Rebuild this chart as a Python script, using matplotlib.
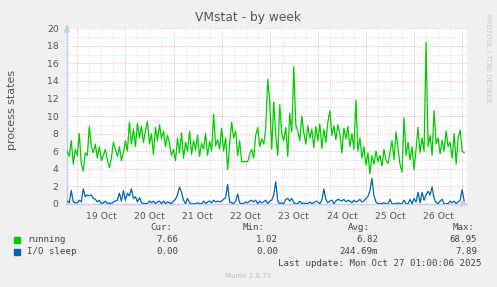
import matplotlib
matplotlib.use("Agg")
import matplotlib.pyplot as plt
import matplotlib.dates as mdates
import pandas as pd
import numpy as np

# ---------------- data ----------------
start_time = "2025-10-18 19:00"
title = "VMstat - by week"
ylabel = "process states"
series_names = ["running", "I/O sleep"]
series_colors = ["#00CC00", "#0066B3"]

running = [
    # Oct 18 19:00-23:00
    6.0, 5.4, 7.2, 4.5, 6.2,
    # Oct 19
    5.5, 8.0, 4.6, 3.7, 5.8, 5.5, 8.8, 6.5, 5.8, 6.8, 5.2, 6.5,
    4.9, 5.5, 6.2, 5.0, 4.1, 5.2, 7.0, 6.2, 5.4, 6.5, 4.9, 5.8,
    # Oct 20
    7.2, 6.0, 9.3, 6.8, 8.5, 6.5, 9.2, 7.5, 8.8, 7.0, 8.3, 9.4,
    6.8, 8.0, 5.6, 8.7, 7.2, 9.0, 7.4, 8.3, 6.5, 7.8, 6.9, 5.5,
    # Oct 21
    6.2, 4.9, 7.5, 5.8, 8.1, 5.2, 7.0, 6.0, 8.3, 5.6, 7.2, 6.1,
    7.8, 5.4, 6.9, 6.2, 8.0, 5.5, 7.1, 6.0, 10.2, 6.6, 7.3, 6.2,
    # Oct 22
    8.6, 6.0, 7.5, 3.9, 6.8, 9.3, 7.5, 8.3, 5.5, 7.2, 4.8, 4.8,
    4.8, 4.8, 5.6, 6.2, 5.2, 7.8, 8.7, 6.5, 7.4, 6.8, 8.5, 14.2,
    # Oct 23
    11.7, 6.2, 11.6, 7.8, 5.5, 11.3, 8.0, 7.2, 8.7, 5.4, 10.3, 8.2,
    15.6, 9.0, 8.3, 7.2, 10.0, 8.1, 6.8, 8.9, 7.5, 8.5, 6.4, 8.8,
    # Oct 24
    7.2, 9.1, 6.3, 8.5, 7.0, 9.3, 10.6, 7.8, 8.9, 7.3, 9.0, 8.0,
    5.8, 8.6, 7.4, 8.8, 6.5, 8.0, 6.2, 11.8, 6.0, 7.5, 5.2, 6.5,
    # Oct 25
    4.4, 5.8, 3.4, 5.5, 4.5, 6.0, 4.8, 5.5, 4.3, 6.2, 5.0, 4.6,
    5.8, 7.2, 5.0, 8.2, 6.3, 4.5, 3.6, 9.8, 5.5, 7.0, 5.0, 6.5,
    # Oct 26
    3.9, 6.2, 8.7, 5.8, 7.5, 6.0, 18.4, 6.5, 7.8, 5.5, 10.6, 6.8,
    7.5, 5.7, 7.2, 6.0, 8.3, 6.5, 7.0, 5.2, 8.0, 4.5, 7.5, 8.4,
    # Oct 27
    6.0, 5.8,
]

io_sleep = [
    # Oct 18 19:00-23:00
    0.3, 0.1, 1.5, 0.2, 0.1,
    # Oct 19
    0.1, 0.4, 0.2, 1.7, 0.8, 1.0, 0.9, 1.0, 0.6, 0.5, 0.2, 0.4,
    0.0, 0.1, 0.3, 0.0, 0.1, 0.0, 0.2, 0.3, 0.4, 1.2, 0.3, 1.5,
    # Oct 20
    0.4, 1.2, 0.9, 1.7, 0.6, 0.8, 0.2, 0.7, 0.1, 0.0, 0.0, 0.0,
    0.3, 0.1, 0.3, 0.0, 0.2, 0.3, 0.0, 0.3, 0.0, 0.2, 0.1, 0.0,
    # Oct 21
    0.3, 0.5, 1.0, 1.9, 1.3, 0.4, 0.0, 0.6, 0.1, 0.0, 0.0, 0.0,
    0.1, 0.0, 0.0, 0.3, 0.0, 0.2, 0.3, 0.1, 0.4, 0.2, 0.3, 0.2,
    # Oct 22
    0.3, 0.5, 0.7, 2.2, 0.2, 0.1, 0.0, 0.3, 1.1, 0.1, 0.0, 0.0,
    0.2, 0.1, 0.3, 0.4, 0.2, 0.4, 0.0, 0.3, 0.1, 0.2, 0.4, 0.0,
    # Oct 23
    0.3, 0.4, 1.0, 2.5, 0.3, 0.0, 0.1, 0.0, 0.5, 0.6, 0.3, 0.6,
    0.1, 0.0, 0.0, 0.3, 0.0, 0.1, 0.0, 0.0, 0.2, 0.0, 0.1, 0.3,
    # Oct 24
    0.2, 0.0, 0.4, 1.7, 0.5, 0.1, 0.3, 0.4, 0.0, 0.3, 0.5, 0.4,
    0.3, 0.5, 0.2, 0.4, 0.3, 0.1, 0.4, 0.2, 0.3, 0.5, 0.2, 0.3,
    # Oct 25
    0.6, 0.8, 1.5, 2.9, 0.9, 0.2, 0.0, 0.0, 0.0, 0.1, 0.0, 0.0,
    0.5, 0.0, 0.0, 0.0, 0.1, 0.0, 0.0, 0.4, 0.0, 0.0, 0.5, 0.0,
    # Oct 26
    0.6, 0.2, 1.3, 0.1, 1.3, 0.4, 1.0, 1.4, 1.0, 1.9, 0.6, 0.1,
    0.0, 0.3, 0.5, 0.0, 0.0, 0.0, 0.3, 0.1, 0.3, 0.0, 0.2, 0.4,
    # Oct 27
    1.6, 0.3,
]

legend_headers = ["Cur:", "Min:", "Avg:", "Max:"]
running_stats = ["7.66", "1.02", "6.82", "68.95"]
io_stats = ["0.00", "0.00", "244.69m", "7.89"]
last_update = "Last update: Mon Oct 27 01:00:06 2025"
footer = "Munin 2.0.73"
watermark = "RRDTOOL / TOBI OETIKER"
yticks = list(range(0, 21, 2))

# ---------------- figure ----------------
W, H = 497, 287
DPI = 100
fig = plt.figure(figsize=(W / DPI, H / DPI), dpi=DPI, facecolor="#F0F0F0")

def fx(px):
    return px / W

def fy(py):
    return 1 - py / H

L, R, T, B = 67, 467, 28.3, 203.7
ax = fig.add_axes([fx(L), fy(B), fx(R) - fx(L), (B - T) / H])
ax.set_facecolor("white")

times = pd.date_range(start_time, periods=len(running), freq="h")
ax.plot(times, running, color=series_colors[0], lw=0.9, zorder=3)
ax.plot(times, io_sleep, color=series_colors[1], lw=0.9, zorder=3)

ax.set_xlim(pd.Timestamp("2025-10-18 18:52"), pd.Timestamp("2025-10-27 02:25"))
ax.set_ylim(0, 20)

# grid
ax.set_yticks(yticks)
ax.set_yticks(range(1, 20, 2), minor=True)
ax.xaxis.set_major_locator(mdates.HourLocator(byhour=[0]))
ax.xaxis.set_minor_locator(mdates.HourLocator(byhour=[6, 12, 18]))
ax.grid(which="major", color="#E8A8A8", linestyle=(0, (1, 1.5)), lw=0.6, zorder=1)
ax.grid(which="minor", color="#D4D4D4", linestyle=(0, (1, 1.5)), lw=0.6, zorder=1)
ax.set_axisbelow(True)

ax.tick_params(axis="both", which="both", length=0, labelsize=6.7,
               colors="#555555")
ax.tick_params(axis="y", pad=6)
ax.xaxis.set_major_formatter(plt.NullFormatter())
# day labels at noon
noon_locs = pd.date_range("2025-10-19 12:00", periods=8, freq="D")
for d in noon_locs:
    ax.text(mdates.date2num(d), -0.045, d.strftime("%-d %b"),
            transform=ax.get_xaxis_transform(), ha="center", va="top",
            fontsize=6.7, color="#555555")

for s in ["top", "right"]:
    ax.spines[s].set_visible(False)
for s in ["left", "bottom"]:
    ax.spines[s].set_color("#C8CCF0")
    ax.spines[s].set_linewidth(1.0)

# axis arrows
ax.annotate("", xy=(1.012, 0), xytext=(0.99, 0), xycoords="axes fraction",
            arrowprops=dict(arrowstyle="-|>,head_width=0.18,head_length=0.45",
                            color="#C8CCF0", lw=1.0), annotation_clip=False)
ax.annotate("", xy=(0, 1.04), xytext=(0, 0.99), xycoords="axes fraction",
            arrowprops=dict(arrowstyle="-|>,head_width=0.18,head_length=0.45",
                            color="#C8CCF0", lw=1.0), annotation_clip=False)

# titles
fig.text(fx(248), fy(18), title, ha="center", va="center", fontsize=8.8,
         color="#555555")
fig.text(fx(12), fy(110), ylabel, ha="center", va="center", rotation=90,
         fontsize=8.0, color="#555555")
fig.text(fx(488), fy(14), watermark, ha="center", va="top", rotation=270,
         fontsize=5.0, color="#C8C8C8")

# legend
mono = "DejaVu Sans Mono"
fs = 6.6
tc = "#444444"
rows_y = [240, 252]
header_y = 227
header_right = [172, 265, 370, 475]
value_right = [178, 278, 378, 477]
for h, xr in zip(legend_headers, header_right):
    fig.text(fx(xr), fy(header_y), h, ha="right", va="center",
             family=mono, fontsize=fs, color=tc)
for yy, name, col, stats in zip(rows_y, series_names, series_colors,
                                [running_stats, io_stats]):
    fig.patches.append(plt.Rectangle((fx(14), fy(yy + 3)), fx(6), 6 / H,
                                     transform=fig.transFigure,
                                     color=col, figure=fig))
    fig.text(fx(27), fy(yy), name, ha="left", va="center", family=mono,
             fontsize=fs, color=tc)
    for v, xr in zip(stats, value_right):
        fig.text(fx(xr), fy(yy), v, ha="right", va="center", family=mono,
                 fontsize=fs, color=tc)
fig.text(fx(482), fy(263), last_update, ha="right", va="center",
         family=mono, fontsize=fs, color=tc)
fig.text(fx(248), fy(276), footer, ha="center", va="center",
         fontsize=5.0, color="#BBBBBB")

fig.savefig("out.png", dpi=DPI, facecolor=fig.get_facecolor())
